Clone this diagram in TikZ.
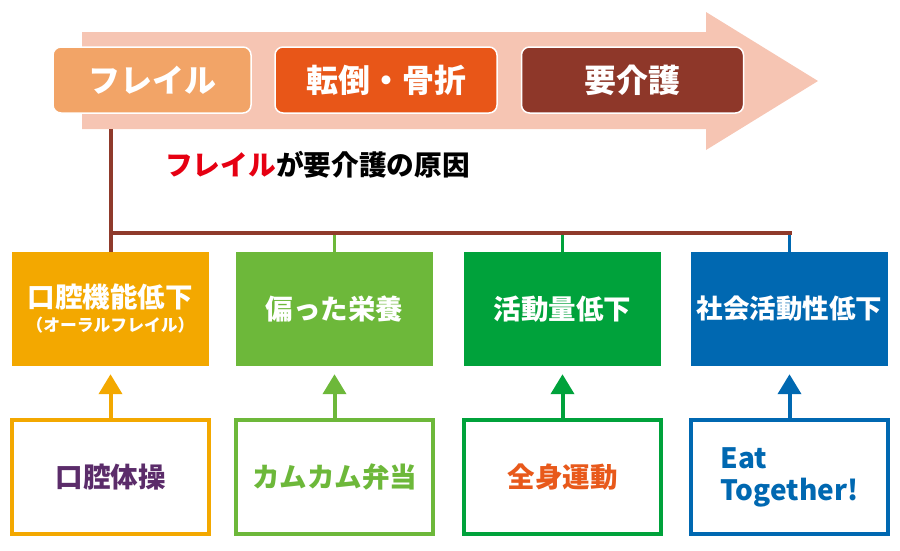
\documentclass[tikz,border=0pt]{standalone}
\usepackage{fontspec}
\setmainfont{Noto Sans CJK JP}
\usetikzlibrary{arrows.meta,positioning}
\definecolor{arrowbg}{HTML}{F6C5B3}
\definecolor{frailc}{HTML}{F2A467}
\definecolor{fallc}{HTML}{E85618}
\definecolor{carec}{HTML}{8E3729}
\definecolor{trunkc}{HTML}{8F3A2B}
\definecolor{frailred}{HTML}{E60012}
\definecolor{oralc}{HTML}{F3A800}
\definecolor{nutric}{HTML}{6DB83A}
\definecolor{actc}{HTML}{00A23B}
\definecolor{socc}{HTML}{0068B1}
\definecolor{purpc}{HTML}{5B2C6A}
\definecolor{orngc}{HTML}{E8591B}
\tikzset{
	stage/.style={rounded corners=8pt, draw=white, line width=1.5pt, minimum width=198pt, minimum height=66pt, inner sep=0pt, text=white, font=\bfseries\fontsize{32}{34}\selectfont},
	factor/.style={minimum width=197pt, minimum height=114pt, inner sep=0pt, align=center, text=white, font=\bfseries\fontsize{27.5}{30}\selectfont},
	remedy/.style={draw, fill=white, line width=4pt, minimum width=197pt, minimum height=114pt, inner sep=0pt, font=\bfseries\fontsize{27.5}{30}\selectfont},
	trunk/.style={line width=4pt, color=trunkc},
	rise/.style={line width=4pt, -{Triangle[width=23pt,length=20pt]}, shorten >=8pt},
}
\begin{document}
\begin{tikzpicture}[x=1pt,y=-1pt]
	\useasboundingbox (0,0) rectangle (900,550);
	%
	% big arrow
	\fill[arrowbg] (82,32) -- (706,32) -- (706,12) -- (818,81) -- (706,150) -- (706,129) -- (82,129) -- cycle;
	\node[stage, fill=frailc] (frail) at (152,80) {フレイル};
	\node[stage, fill=fallc, minimum width=222pt] (fall) at (386,80) {転倒・骨折};
	\node[stage, fill=carec, minimum width=222pt] (care) at (632.5,80) {要介護};
	%
	\node[anchor=west, inner sep=0pt, font=\bfseries\fontsize{27.7}{30}\selectfont] (cause) at (165,165) {\textcolor{frailred}{フレイル}が要介護の原因};
	
	% causes
	\node[factor, fill=oralc] (oral) at (110.5,309) {口腔機能低下\\[-6pt]{\fontsize{16.8}{18}\selectfont （オーラルフレイル）}};
	\node[factor, fill=nutric] (nutri) at (334.5,309) {偏った栄養};
	\node[factor, fill=actc] (act) at (562.5,309) {活動量低下};
	\node[factor, fill=socc, font=\bfseries\fontsize{26.5}{30}\selectfont] (soc) at (789.5,309) {社会活動性低下};
	%
	% remedies
	\node[remedy, draw=oralc, text=purpc] (oralex) at (110.5,477) {口腔体操};
	\node[remedy, draw=nutric, text=nutric] (bento) at (334.5,477) {カムカム弁当};
	\node[remedy, draw=actc, text=orngc] (body) at (562.5,477) {全身運動};
	\node[remedy, draw=socc, text=socc, align=left, font=\bfseries\fontsize{28}{32}\selectfont] (eat) at (789.5,477) {Eat\\Together!};
	
	% tree
	\coordinate (root) at (110.5,129);
	\coordinate (bus) at (791.5,233);
	\foreach \n/\c in {nutri/nutric,act/actc,soc/socc}
	\draw[line width=3.5pt, color=\c] (\n.north) -- (\n.north |- bus);
	\draw[trunk] (root) -- (oral.north);
	\draw[trunk] (root |- bus) -- (bus);
	%
	\foreach \a/\b/\c in {oralex/oral/oralc,bento/nutri/nutric,body/act/actc,eat/soc/socc}
	\draw[rise, color=\c] (\a.north) -- (\b.south);
\end{tikzpicture}
\end{document}
